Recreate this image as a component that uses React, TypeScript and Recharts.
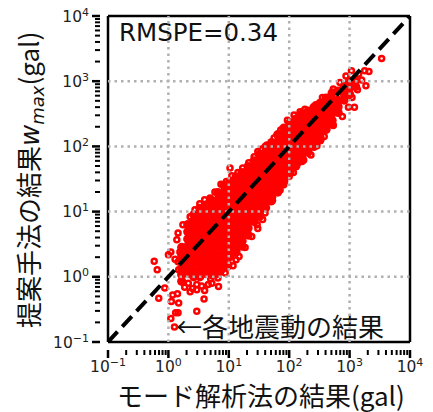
import { ScatterChart, Scatter, XAxis, YAxis, ReferenceLine } from 'recharts'

const FONT = '"DejaVu Sans", "Noto Sans CJK JP", sans-serif'
const JP_FONT = '"Noto Sans CJK JP", sans-serif'
const RED = '#ff0000'
const GRID = '#b0b0b0'

const majorTicks = [0.1, 1, 10, 100, 1000, 10000]
const minorTicks = [
  0.2, 0.3, 0.4, 0.5, 0.6, 0.7, 0.8, 0.9,
  2, 3, 4, 5, 6, 7, 8, 9,
  20, 30, 40, 50, 60, 70, 80, 90,
  200, 300, 400, 500, 600, 700, 800, 900,
  2000, 3000, 4000, 5000, 6000, 7000, 8000, 9000,
]
const gridTicks = [1, 10, 100, 1000]
const tickExponents: Record<number, string> = {
  0.1: '\u22121', 1: '0', 10: '1', 100: '2', 1000: '3', 10000: '4',
}

// dense part of the cloud, read as [log10 x, [log10 y, ...]]
const coreLow: [number, number[]][] = [
  [0.22, [0.45, 0.34, 0.24, 0.13, 0.03, -0.07]],
  [0.32, [0.8, 0.69, 0.58, 0.47, 0.37, 0.26, 0.16, 0.05]],
  [0.42, [0.95, 0.85, 0.74, 0.63, 0.53, 0.42, 0.32, 0.21, 0.1, 0]],
  [0.52, [1.05, 0.95, 0.84, 0.73, 0.63, 0.52, 0.42, 0.31, 0.21, 0.1, 0]],
  [0.62, [1.1, 1.0, 0.9, 0.79, 0.68, 0.58, 0.47, 0.37, 0.26, 0.16, 0.05]],
  [0.72, [1.17, 1.07, 0.96, 0.85, 0.75, 0.64, 0.54, 0.43, 0.33, 0.22, 0.12, 0.03]],
  [0.82, [1.29, 1.18, 1.08, 0.97, 0.87, 0.76, 0.66, 0.55, 0.45, 0.34, 0.24, 0.13, 0.06]],
  [0.92, [1.4, 1.3, 1.19, 1.09, 0.98, 0.88, 0.77, 0.67, 0.56, 0.46, 0.35, 0.25, 0.16]],
]
const coreMid: [number, number[]][] = [
  [1.02, [1.46, 1.36, 1.25, 1.15, 1.04, 0.94, 0.83, 0.73, 0.62, 0.52, 0.41, 0.31]],
  [1.12, [1.53, 1.43, 1.32, 1.22, 1.11, 1.01, 0.9, 0.8, 0.69, 0.59, 0.48, 0.38]],
  [1.22, [1.6, 1.5, 1.39, 1.29, 1.18, 1.08, 0.97, 0.87, 0.76, 0.66, 0.55, 0.47]],
  [1.32, [1.69, 1.59, 1.48, 1.38, 1.27, 1.17, 1.06, 0.96, 0.85, 0.75, 0.64]],
  [1.42, [1.78, 1.67, 1.57, 1.46, 1.36, 1.25, 1.15, 1.04, 0.94, 0.85]],
  [1.51, [1.88, 1.77, 1.67, 1.56, 1.46, 1.35, 1.25, 1.14, 1.04, 0.93]],
  [1.61, [1.99, 1.88, 1.78, 1.67, 1.57, 1.46, 1.36, 1.25, 1.15, 1.06]],
  [1.71, [2.06, 1.95, 1.85, 1.74, 1.64, 1.53, 1.43, 1.32, 1.22, 1.17]],
  [1.81, [2.18, 2.07, 1.97, 1.86, 1.76, 1.65, 1.55, 1.44, 1.34, 1.3]],
  [1.91, [2.28, 2.17, 2.07, 1.96, 1.86, 1.75, 1.65, 1.54, 1.46]],
]
const coreHigh: [number, number[]][] = [
  [2.01, [2.36, 2.25, 2.15, 2.04, 1.94, 1.83, 1.73, 1.62, 1.6]],
  [2.11, [2.42, 2.32, 2.21, 2.11, 2.0, 1.9, 1.79, 1.7]],
  [2.21, [2.49, 2.38, 2.28, 2.17, 2.07, 1.96, 1.86, 1.78]],
  [2.31, [2.54, 2.44, 2.33, 2.23, 2.12, 2.02, 1.91]],
  [2.41, [2.6, 2.5, 2.39, 2.29, 2.18, 2.08, 2.0]],
  [2.51, [2.66, 2.56, 2.45, 2.35, 2.24, 2.14, 2.1]],
  [2.61, [2.74, 2.64, 2.53, 2.43, 2.32, 2.26]],
  [2.71, [2.82, 2.72, 2.61, 2.51, 2.4, 2.34]],
  [2.81, [2.85, 2.71, 2.61, 2.52]],
  [2.91, [2.92, 2.81, 2.71]],
  [3.0, [3.0, 2.9, 2.8]],
  [3.1, [3.02, 2.92]],
]

// single visible rings, [log10 x, log10 y]
const outliers: [number, number][] = [
  [-0.235, 0.24], [-0.185, 0.11], [-0.06, -0.17], [-0.16, -0.33], [0.07, -0.28], [0.15, -0.26],
  [0.05, -0.38], [0.17, -0.4], [0.12, -0.55], [0.16, -0.55], [0.04, -0.64], [0.1, -0.77],
  [0.47, -0.53], [0.59, -0.34], [0.83, -0.15], [0, 0.34], [0.04, 0.38], [0.11, 0.27], [0.14, 0.57],
  [1.02, 1.67], [3.53, 3.35], [3.08, 2.6], [1.91, 1.41], [1.48, 0.74], [1.38, 0.62], [1.27, 0.45],
  [1.17, 0.31], [1.0, 0.19],
]
const upperEdge: [number, number][] = [
  [0.16, 0.67], [0.24, 0.8], [0.36, 0.92], [0.44, 1.03], [0.52, 1.12], [0.6, 1.18], [0.69, 1.21],
  [0.77, 1.3], [0.87, 1.42], [0.96, 1.46], [1.05, 1.55], [1.15, 1.6], [1.23, 1.67], [1.33, 1.75],
  [1.42, 1.84], [1.48, 1.92], [1.55, 1.96], [1.63, 2.02], [1.75, 2.13], [1.86, 2.25], [1.97, 2.4],
  [2.08, 2.48], [2.18, 2.53], [2.26, 2.57], [2.44, 2.64], [2.55, 2.75], [2.73, 2.88], [2.84, 2.98],
  [2.94, 3.08], [3.03, 3.16], [3.15, 3.11], [3.25, 3.16], [3.32, 3.15],
]
const lowerEdge: [number, number][] = [
  [3.27, 2.93], [3.13, 2.87], [3.2, 3.02], [2.98, 2.6], [3.04, 2.75], [2.88, 2.46], [2.73, 2.32],
  [2.58, 2.15], [2.46, 2.01], [2.36, 1.87], [2.24, 1.79], [2.14, 1.74], [2.07, 1.6], [2.0, 1.54],
  [1.85, 1.33], [1.7, 1.15], [1.6, 0.98], [1.56, 0.88], [1.47, 0.8], [1.12, 0.26], [1.07, 0.17],
  [0.98, 0.15], [0.94, 0.06], [0.88, 0.1], [0.82, -0.02], [0.8, 0.03], [0.72, -0.1], [0.7, -0.03],
  [0.66, -0.12], [0.6, -0.21], [0.55, -0.14], [0.47, -0.2], [0.47, -0.12], [0.4, -0.18], [0.36, -0.23],
  [0.33, -0.1], [0.27, -0.16], [0.17, 0.11], [0.19, 0.38], [0.16, 0.23],
]
const diagonal = [{ x: 0.1, y: 0.1 }, { x: 10000, y: 10000 }]

const fromColumns = (cols: [number, number[]][]) =>
  cols.flatMap(([lx, ys]) => ys.map((ly) => ({ x: 10 ** lx, y: 10 ** ly })))
const fromPairs = (pairs: [number, number][]) =>
  pairs.map(([lx, ly]) => ({ x: 10 ** lx, y: 10 ** ly }))

const coreData = fromColumns([...coreLow, ...coreMid, ...coreHigh])
const ringData = fromPairs([...outliers, ...upperEdge, ...lowerEdge])

const NoDot = () => <g />
const CoreDot = (props: any) => <circle cx={props.cx} cy={props.cy} r={4.6} fill={RED} />
const RingDot = (props: any) => (
  <circle cx={props.cx} cy={props.cy} r={2.5} fill="none" stroke={RED} strokeWidth={2.5} />
)

function XTick({ x, y, payload }: any) {
  const exp = tickExponents[payload.value]
  return (
    <g>
      <line x1={x} x2={x} y1={y} y2={y + (exp ? 8 : 5)} stroke="#000" strokeWidth={exp ? 2.5 : 2} />
      {exp && (
        <text x={x} y={372} textAnchor="middle" fontSize={15.5} fill="#222" fontFamily={FONT}>
          10<tspan dy={-6} fontSize={11}>{exp}</tspan>
        </text>
      )}
    </g>
  )
}

function YTick({ x, y, payload }: any) {
  const exp = tickExponents[payload.value]
  return (
    <g>
      <line x1={x} x2={x - (exp ? 8 : 5)} y1={y} y2={y} stroke="#000" strokeWidth={exp ? 2.5 : 2} />
      {exp && (
        <text x={89} y={y + 5.5} textAnchor="end" fontSize={15.5} fill="#222" fontFamily={FONT}>
          10<tspan dy={-6} fontSize={11}>{exp}</tspan>
        </text>
      )}
    </g>
  )
}

const allTicks = [...majorTicks, ...minorTicks].sort((a, b) => a - b)
const gridLine = { stroke: GRID, strokeWidth: 2.5, strokeDasharray: '2.5 4' }

export default function App() {
  return (
    <div style={{ position: 'absolute', left: 0, top: 0, width: 433, height: 412, background: '#fff' }}>
      <ScatterChart width={433} height={412} margin={{ top: 16, right: 23, bottom: 0, left: 0 }}>
        <XAxis
          type="number"
          dataKey="x"
          scale="log"
          domain={[0.1, 10000]}
          ticks={allTicks}
          interval={0}
          height={70}
          allowDataOverflow
          tickLine={false}
          axisLine={{ stroke: '#000', strokeWidth: 2.5 }}
          tick={<XTick />}
        />
        <YAxis
          type="number"
          dataKey="y"
          scale="log"
          domain={[0.1, 10000]}
          ticks={allTicks}
          interval={0}
          width={108}
          allowDataOverflow
          tickLine={false}
          axisLine={{ stroke: '#000', strokeWidth: 2.5 }}
          tick={<YTick />}
        />
        <ReferenceLine x={10000} stroke="#000" strokeWidth={2.5} />
        <ReferenceLine y={10000} stroke="#000" strokeWidth={2.5} />
        <Scatter data={coreData} shape={CoreDot} isAnimationActive={false} />
        <Scatter data={ringData} shape={RingDot} isAnimationActive={false} />
        {/* grid and 1:1 line sit above the cloud, so they are line-only series */}
        {gridTicks.map((v) => (
          <Scatter
            key={`gx${v}`}
            data={[{ x: v, y: 0.1 }, { x: v, y: 10000 }]}
            line={gridLine}
            shape={NoDot}
            isAnimationActive={false}
          />
        ))}
        {gridTicks.map((v) => (
          <Scatter
            key={`gy${v}`}
            data={[{ x: 0.1, y: v }, { x: 10000, y: v }]}
            line={gridLine}
            shape={NoDot}
            isAnimationActive={false}
          />
        ))}
        <Scatter
          data={diagonal}
          line={{ stroke: '#000', strokeWidth: 4, strokeDasharray: '14 7' }}
          shape={NoDot}
          isAnimationActive={false}
        />
        <text x={119} y={41} fontSize={24.5} fill="#111" fontFamily={FONT}>RMSPE=0.34</text>
        <text x={176} y={337} fontSize={26} fill="#111" fontFamily={JP_FONT}>←各地震動の結果</text>
        <text x={117} y={406} fontSize={26} fill="#111" fontFamily={JP_FONT}>モード解析法の結果(gal)</text>
        <text
          transform="translate(39,328) rotate(-90)"
          fontSize={26}
          fill="#111"
          fontFamily={JP_FONT}
        >
          提案手法の結果<tspan fontStyle="italic" fontFamily={FONT}>w</tspan>
          <tspan dy={5} fontSize={18} fontStyle="italic" fontFamily={FONT}>max</tspan>
          <tspan dy={-5}>(gal)</tspan>
        </text>
      </ScatterChart>
    </div>
  )
}
